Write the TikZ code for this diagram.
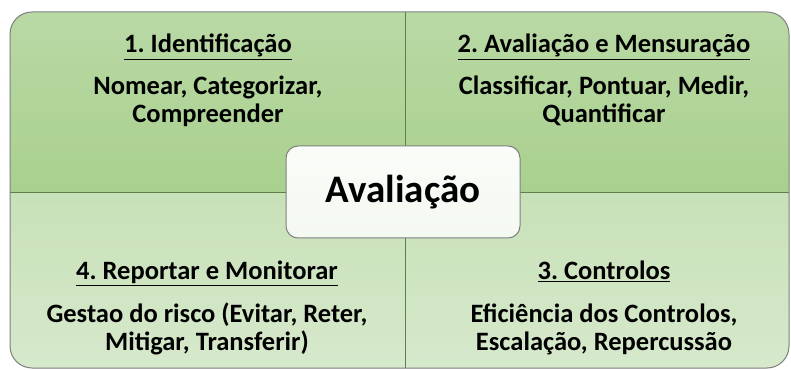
\documentclass[tikz,border=0pt]{standalone}
\usepackage{fontspec}
\setmainfont{Carlito}
\usetikzlibrary{positioning}
\frenchspacing

\definecolor{topgreen}{HTML}{A9D08E}
\definecolor{toplight}{HTML}{B9D9A5}
\definecolor{lowgreen}{HTML}{C8E1B8}
\definecolor{lowlight}{HTML}{D6E9CC}
\definecolor{rimgray}{HTML}{7F7F7F}
\definecolor{splitline}{HTML}{5E7F48}

\tikzset{
  topquad/.style={top color=toplight, bottom color=topgreen},
  lowquad/.style={top color=lowgreen, bottom color=lowlight},
  heading/.style={font=\bfseries\fontsize{26.5}{28}\selectfont, inner sep=0pt, anchor=base},
  bodytext/.style={font=\bfseries\fontsize{26.5}{28}\selectfont, inner sep=0pt, align=center, anchor=base},
  centerbox/.style={draw=rimgray, line width=1pt, rounded corners=12pt,
    top color=white!92!toplight, bottom color=white!80!lowgreen,
    minimum width=234pt, minimum height=92pt, inner sep=0pt,
    font=\bfseries\fontsize{39}{44}\selectfont}
}

\begin{document}
\begin{tikzpicture}[x=1pt,y=1pt]
  \useasboundingbox (0,0) rectangle (791,369);

  % quadrants
  \begin{scope}
    \clip[rounded corners=22pt] (10,1) rectangle (789,357);
    \shade[topquad] (10,176) rectangle (405,357);
    \shade[topquad] (405,176) rectangle (789,357);
    \shade[lowquad] (10,1) rectangle (405,176);
    \shade[lowquad] (405,1) rectangle (789,176);
  \end{scope}

  \coordinate (top) at (405,357);
  \coordinate (bottom) at (405,1);
  \coordinate (left) at (10,176);
  \coordinate (right) at (789,176);
  \draw[splitline, line width=1pt] (top) -- (bottom);
  \draw[splitline, line width=1pt] (left) -- (right);
  \draw[rimgray, line width=1pt, rounded corners=22pt] (10,1) rectangle (789,357);

  % texts (base = last line)
  \node[heading] (ident) at (208,316) {\underline{1. Identificação}};
  \node[bodytext] (identbody) at (208,246) {Nomear, Categorizar,\\Compreender};

  \node[heading] (mensura) at (604,316) {\underline{2. Avaliação e Mensuração}};
  \node[bodytext] (mensurabody) at (604,246) {Classificar, Pontuar, Medir,\\Quantificar};

  \node[heading] (reporta) at (207,89) {\underline{4. Reportar e Monitorar}};
  \node[bodytext] (reportabody) at (207,19) {Gestao do risco (Evitar, Reter,\\Mitigar, Transferir)};

  \node[heading] (control) at (604,89) {\underline{3. Controlos}};
  \node[bodytext] (controlbody) at (604,19) {Eficiência dos Controlos,\\Escalação, Repercussão};

  % centre
  \node[centerbox] (core) at (403,177) {Avaliação};
\end{tikzpicture}
\end{document}
